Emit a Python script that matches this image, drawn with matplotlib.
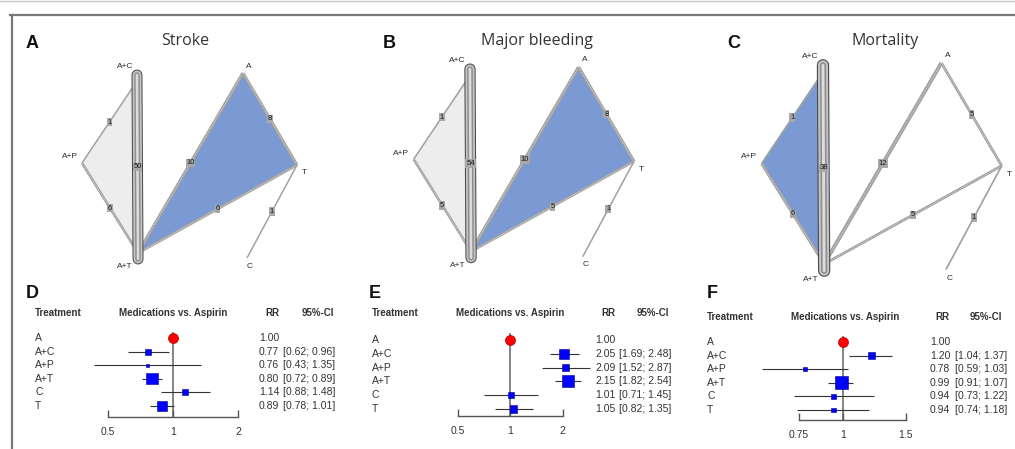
import numpy as np
import matplotlib
matplotlib.use("Agg")
import matplotlib.pyplot as plt
from matplotlib.lines import Line2D
from matplotlib.patches import Polygon
import matplotlib.transforms as mtransforms
from matplotlib.ticker import NullLocator

W, H = 1015, 449

# ------------------------------------------------------------------ data
treatments = ["A", "A+C", "A+P", "A+T", "C", "T"]

stroke_rr = [1.00, 0.77, 0.76, 0.80, 1.14, 0.89]
stroke_lo = [np.nan, 0.62, 0.43, 0.72, 0.88, 0.78]
stroke_hi = [np.nan, 0.96, 1.35, 0.89, 1.48, 1.01]
stroke_wt = [np.nan, 10, 3, 35, 10, 28]

bleeding_rr = [1.00, 2.05, 2.09, 2.15, 1.01, 1.05]
bleeding_lo = [np.nan, 1.69, 1.52, 1.82, 0.71, 0.82]
bleeding_hi = [np.nan, 2.48, 2.87, 2.54, 1.45, 1.35]
bleeding_wt = [np.nan, 28, 14, 40, 10, 14]

mortality_rr = [1.00, 1.20, 0.78, 0.99, 0.94, 0.94]
mortality_lo = [np.nan, 1.04, 0.59, 0.91, 0.73, 0.74]
mortality_hi = [np.nan, 1.37, 1.03, 1.07, 1.22, 1.18]
mortality_wt = [np.nan, 14, 5, 48, 5, 5]

stroke_ticks = [0.5, 1, 2]
bleeding_ticks = [0.5, 1, 2]
mortality_ticks = [0.75, 1, 1.5]
stroke_ticklabels = ["0.5", "1", "2"]
bleeding_ticklabels = ["0.5", "1", "2"]
mortality_ticklabels = ["0.75", "1", "1.5"]

edge_pairs = [("A+C", "A+P"), ("A+P", "A+T"), ("A+C", "A+T"),
              ("A", "A+T"), ("A", "T"), ("A+T", "T"), ("T", "C")]
stroke_studies = [1, 6, 50, 10, 8, 6, 1]
bleeding_studies = [1, 5, 54, 10, 8, 5, 1]
mortality_studies = [1, 6, 38, 12, 5, 5, 1]

stroke_multiarm = [("A+C", "A+P", "A+T"), ("A", "T", "A+T")]
bleeding_multiarm = [("A+C", "A+P", "A+T"), ("A", "T", "A+T")]
mortality_multiarm = [("A+C", "A+P", "A+T")]

titles = ["Stroke", "Major bleeding", "Mortality"]

# ------------------------------------------------------------------ layout / style
node_layout = {"A+C": (0, 8), "A+P": (-55, 90), "A+T": (1, 180),
               "A": (106, 0), "T": (160, 92), "C": (110, 185)}
label_offset = {"A+C": (-4, -14, "right"), "A+P": (-4, -6, "right"),
                "A+T": (-5, 14, "right"), "A": (3, -7, "left"),
                "T": (5, 8, "left"), "C": (3, 8, "center")}
BLUE_FILL = "#7b9ad4"
GRAY_FILL = "#ededed"

fig = plt.figure(figsize=(W / 100, H / 100), dpi=100)
fig.patch.set_facecolor("white")

# frame lines
fig.add_artist(Line2D([0, 1], [1 - 1 / H, 1 - 1 / H], color="#c8c8c8", lw=1.0))
fig.add_artist(Line2D([10 / W, 1], [1 - 15 / H, 1 - 15 / H], color="#777777", lw=1.6))
fig.add_artist(Line2D([12 / W, 12 / W], [0, 1 - 15 / H], color="#777777", lw=1.6))

PT = 0.72  # points per pixel at dpi 100


def network(x0, y0, s, studies, multiarm, fill_colors, title, letter, letter_x, title_x):
    xmin, xmax, ymin, ymax = -80, 190, -20, 205
    left = x0 + s * xmin
    ax = fig.add_axes([left / W, 1 - (y0 + s * ymax) / H,
                       s * (xmax - xmin) / W, s * (ymax - ymin) / H])
    ax.set_xlim(xmin, xmax)
    ax.set_ylim(ymax, ymin)
    ax.axis("off")

    for tri, fc in zip(multiarm, fill_colors):
        pts = [node_layout[n] for n in tri]
        ax.add_patch(Polygon(pts, closed=True, facecolor=fc, edgecolor="none", zorder=1))

    nmax = max(studies)
    for (a, b), n in zip(edge_pairs, studies):
        xa, ya = node_layout[a]
        xb, yb = node_layout[b]
        mx, my = (xa + xb) / 2, (ya + yb) / 2
        if n == nmax:
            d = np.array([xb - xa, yb - ya], float)
            d /= np.hypot(*d)
            p0 = np.array([xa, ya]) - 6 * d
            p1 = np.array([xb, yb]) + 6 * d
            for lw, col in [(11, "#4a4a4a"), (9, "#c4c4c4"), (5.5, "#8e8e8e"), (2.6, "#dcdcdc")]:
                ax.plot([p0[0], p1[0]], [p0[1], p1[1]], color=col, lw=lw * s * PT,
                        solid_capstyle="round", zorder=3)
        else:
            wpx = 0.7 + 0.8 * np.sqrt(n)
            ax.plot([xa, xb], [ya, yb], color="#a0a0a0", lw=wpx * s * PT,
                    solid_capstyle="butt", zorder=2)
            if n > 1:
                ax.plot([xa, xb], [ya, yb], color="#e2e2e2", lw=0.8 * PT,
                        dashes=(1.2, 1.2), zorder=2)
        ax.text(mx, my, str(n), fontsize=5.5, ha="center", va="center", color="#1a1a1a",
                family="Liberation Sans", zorder=5,
                bbox=dict(boxstyle="square,pad=0.1", fc="#a8a8a8", ec="none"))

    for name, (x, y) in node_layout.items():
        dx, dy, ha = label_offset[name]
        ax.text(x + dx, y + dy, name, fontsize=6, ha=ha, va="center",
                color="#2a2a2a", family="Liberation Sans", zorder=6)

    fig.text(letter_x / W, 1 - 43 / H, letter, fontsize=13, fontweight="bold",
             family="Liberation Sans", ha="left", va="center", color="#111111")
    fig.text(title_x / W, 1 - 41 / H, title, fontsize=11.5, family="Open Sans",
             ha="center", va="center", color="#333333")


network(137, 73, 1.0, stroke_studies, stroke_multiarm, [GRAY_FILL, BLUE_FILL],
        titles[0], "A", 26, 185)
network(470, 67, 1.025, bleeding_studies, bleeding_multiarm, [GRAY_FILL, BLUE_FILL],
        titles[1], "B", 383, 537)
network(823, 63, 1.117, mortality_studies, mortality_multiarm, [BLUE_FILL],
        titles[2], "C", 727, 885)


def forest(g, rr, lo, hi, wt, ticks, ticklabels, letter):
    rows = np.arange(len(treatments))
    ybot = (g["axis"] - g["row0"]) / g["step"]
    ytop = (g["top"] - g["row0"]) / g["step"]
    ax = fig.add_axes([g["left"] / W, 1 - g["axis"] / H,
                       (g["right"] - g["left"]) / W, (g["axis"] - g["top"]) / H])
    ax.set_xscale("log")
    ax.set_xlim(2 ** ((g["left"] - g["one"]) / g["ppl"]),
                2 ** ((g["right"] - g["one"]) / g["ppl"]))
    ax.set_ylim(ybot, ytop)
    ax.patch.set_alpha(0)
    for sp in ["top", "right", "left"]:
        ax.spines[sp].set_visible(False)
    ax.spines["bottom"].set_bounds(ticks[0], ticks[-1])
    ax.spines["bottom"].set_color("#555555")
    ax.spines["bottom"].set_linewidth(1.0)
    ax.set_yticks([])
    ax.set_xticks(ticks)
    ax.set_xticklabels(ticklabels)
    ax.xaxis.set_minor_locator(NullLocator())
    ax.tick_params(axis="x", direction="in", length=5, width=1.0, color="#555555",
                   labelsize=7.5, labelcolor="#333333", pad=7)
    for t in ax.get_xticklabels():
        t.set_family("Liberation Sans")

    ax.plot([1, 1], [-0.4, ybot], color="#7a7a7a", lw=1.3, zorder=1)
    rr = np.array(rr, float)
    lo = np.array(lo, float)
    hi = np.array(hi, float)
    wt = np.array(wt, float)
    m = ~np.isnan(lo)
    ax.hlines(rows[m], lo[m], hi[m], color="#333333", lw=0.8, zorder=2)
    sizes = (1.9 * np.sqrt(wt[m]) * PT) ** 2
    ax.scatter(rr[m], rows[m], marker="s", s=sizes, color="#0000ff",
               edgecolor="#00008b", linewidth=0.4, zorder=3)
    ax.scatter(rr[~m], rows[~m], marker="o", s=(10 * PT) ** 2, color="#ff0000",
               edgecolor="#b00000", linewidth=0.5, zorder=4)

    bt = mtransforms.blended_transform_factory(ax.transAxes, ax.transData)

    def axfx(px):
        return (px - g["left"]) / (g["right"] - g["left"])

    hdr = (g["hdr"] - g["row0"]) / g["step"]
    kw = dict(transform=bt, fontsize=7, fontweight="bold", va="center",
              color="#333333", family="Liberation Sans", clip_on=True)
    ax.text(axfx(g["lab"]), hdr, "Treatment", ha="left", **kw)
    ax.text(axfx(g["med"]), hdr, "Medications vs. Aspirin", ha="center", **kw)
    ax.text(axfx(g["rrh"]), hdr, "RR", ha="center", **kw)
    ax.text(axfx(g["cih"]), hdr, "95%-CI", ha="left", **kw)

    kw = dict(transform=bt, fontsize=7.5, va="center", color="#333333",
              family="Liberation Sans", clip_on=True)
    for i, name in enumerate(treatments):
        ax.text(axfx(g["lab"]), rows[i], name, ha="left", **kw)
        ax.text(axfx(g["val"]), rows[i], f"{rr[i]:.2f}", ha="left", **kw)
        if m[i]:
            ax.text(axfx(g["ci"]), rows[i], f"[{lo[i]:.2f}; {hi[i]:.2f}]", ha="left", **kw)

    fig.text(g["letter"] / W, 1 - 293 / H, letter, fontsize=13, fontweight="bold",
             family="Liberation Sans", ha="left", va="center", color="#111111")


geo_D = dict(left=20, right=340, top=300, row0=338, step=13.6, axis=417, one=173, ppl=65,
             lab=35, val=259, ci=283, hdr=313, med=173, rrh=272, cih=302, letter=26)
geo_E = dict(left=345, right=680, top=300, row0=340, step=13.8, axis=416, one=510, ppl=52.5,
             lab=372, val=595, ci=619, hdr=313, med=510, rrh=608, cih=637, letter=369)
geo_F = dict(left=690, right=1015, top=300, row0=342, step=13.6, axis=420, one=843, ppl=107,
             lab=707, val=930, ci=955, hdr=317, med=845, rrh=942, cih=970, letter=707)

forest(geo_D, stroke_rr, stroke_lo, stroke_hi, stroke_wt, stroke_ticks, stroke_ticklabels, "D")
forest(geo_E, bleeding_rr, bleeding_lo, bleeding_hi, bleeding_wt, bleeding_ticks, bleeding_ticklabels, "E")
forest(geo_F, mortality_rr, mortality_lo, mortality_hi, mortality_wt, mortality_ticks, mortality_ticklabels, "F")

fig.savefig("out.png", dpi=100, facecolor="white")
